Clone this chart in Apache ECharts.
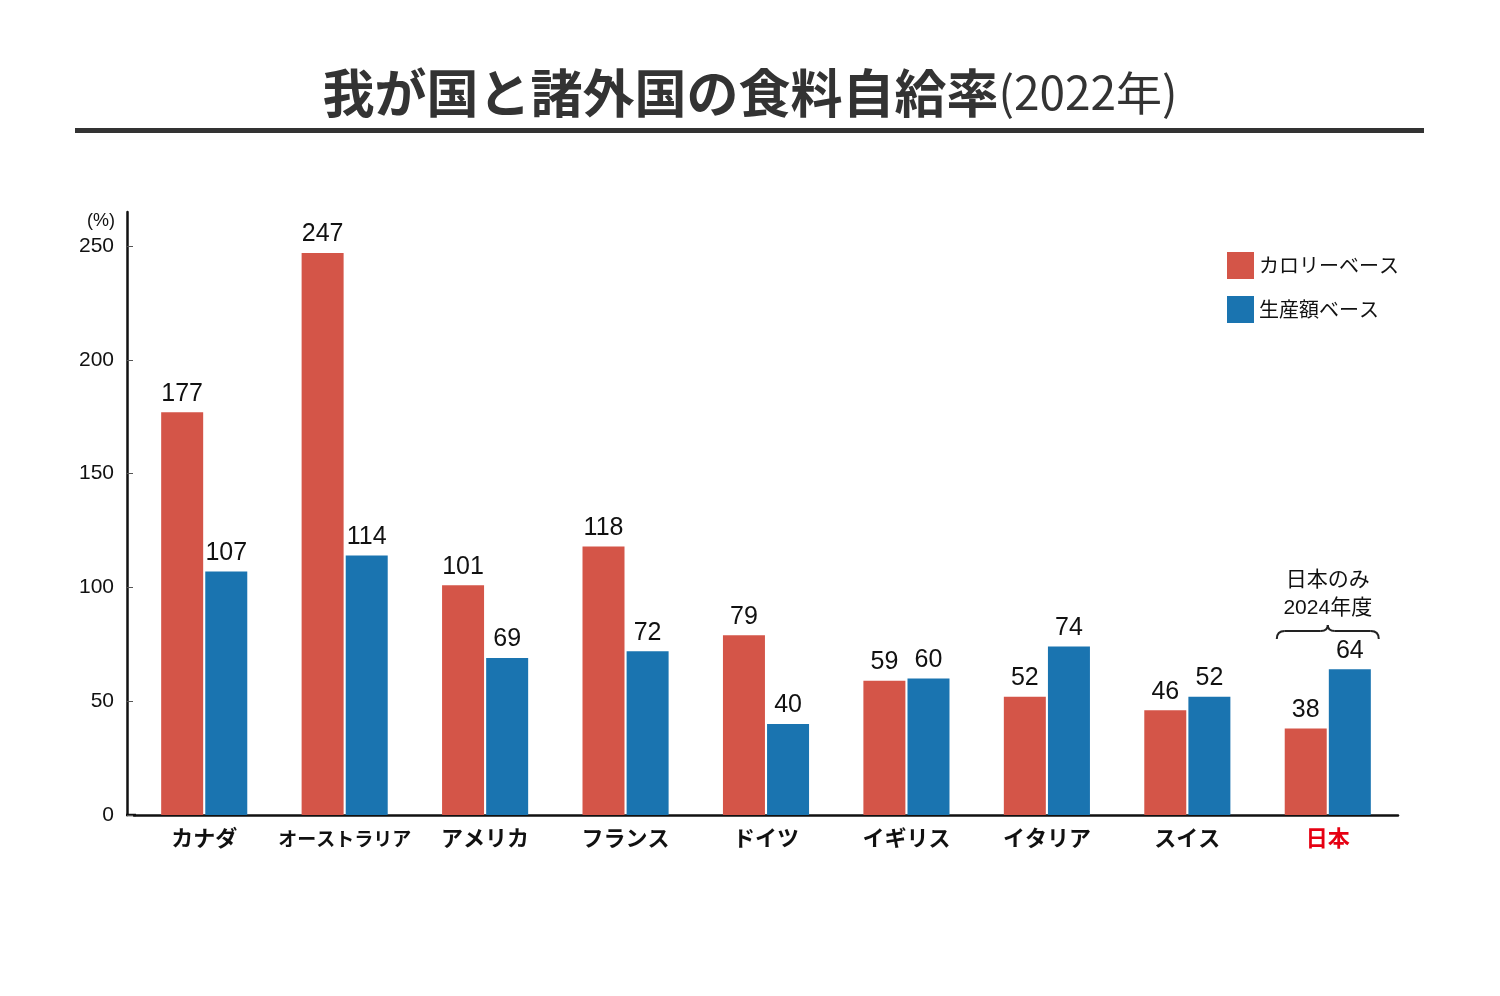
<!DOCTYPE html>
<html>
<head>
<meta charset="utf-8">
<script src="https://cdn.jsdelivr.net/npm/echarts@6/dist/echarts.min.js"></script>
<style>
html,body{margin:0;padding:0;background:#fff;}
#c{width:1500px;height:996px;}
</style>
</head>
<body>
<div id="c"></div>
<script>
const categories = ['カナダ','オーストラリア','アメリカ','フランス','ドイツ','イギリス','イタリア','スイス','日本'];
const calorieBase = [177, 247, 101, 118, 79, 59, 52, 46, 38];
const productionBase = [107, 114, 69, 72, 40, 60, 74, 52, 64];
const yTicks = [0, 50, 100, 150, 200, 250];
const seriesNames = ['カロリーベース', '生産額ベース'];
const titleMain = '我が国と諸外国の食料自給率';
const titleSub = '(2022年)';
const noteText = '日本のみ\n2024年度';

const JP = "'Noto Sans CJK JP', sans-serif";
const NUM = "'Liberation Sans', 'Noto Sans CJK JP', sans-serif";
const RED = '#d45548';
const BLUE = '#1a74b0';

const chart = echarts.init(document.getElementById('c'), null, {renderer: 'canvas'});

const option = {
  backgroundColor: '#fff',
  animation: false,
  title: {
    left: 'center',
    top: 61,
    padding: 0,
    text: '{a|' + titleMain + '}{b|' + titleSub + '}',
    textStyle: {
      rich: {
        a: {fontFamily: JP, fontWeight: 'bold', fontSize: 52, color: '#333', lineHeight: 64},
        b: {fontFamily: JP, fontWeight: 'normal', fontSize: 46, color: '#333', lineHeight: 64}
      }
    }
  },
  legend: {
    orient: 'vertical',
    left: 1227,
    top: 252,
    padding: 0,
    itemWidth: 27,
    itemHeight: 27,
    itemGap: 17,
    icon: 'rect',
    textStyle: {fontFamily: JP, fontSize: 20, color: '#111'},
    data: seriesNames
  },
  grid: {left: 134, right: 102, top: 212, bottom: 181, containLabel: false},
  xAxis: {
    type: 'category',
    data: categories,
    axisLine: {show: true, lineStyle: {color: '#111', width: 2.5}},
    axisTick: {show: false},
    axisLabel: {
      interval: 0,
      margin: 10,
      fontFamily: JP,
      fontWeight: 'bold',
      fontSize: 22,
      lineHeight: 26,
      formatter: function (v) { return v.length > 5 ? '{n|' + v + '}' : v; },
      rich: {n: {fontFamily: JP, fontWeight: 'bold', fontSize: 19, lineHeight: 26, padding: [2, 0, 0, 0], color: '#111'}},
      color: function (v) { return v === '日本' ? '#e60012' : '#111'; }
    }
  },
  yAxis: {
    type: 'value',
    min: 0,
    max: 265,
    interval: 50,
    offset: 7,
    name: '(%)',
    nameLocation: 'end',
    nameGap: -18,
    nameTextStyle: {fontFamily: NUM, fontSize: 18, color: '#111', align: 'right', padding: [0, 12, 0, 0]},
    axisLine: {show: true, lineStyle: {color: '#111', width: 2.5}},
    axisTick: {show: true, inside: true, length: 6, lineStyle: {color: '#555', width: 1}, customValues: yTicks},
    axisLabel: {fontFamily: NUM, fontSize: 21, color: '#111', margin: 13, customValues: yTicks},
    splitLine: {show: false}
  },
  series: [
    {
      name: seriesNames[0],
      type: 'bar',
      data: calorieBase,
      barWidth: 42,
      barGap: '5%',
      itemStyle: {color: RED},
      label: {show: true, position: 'top', distance: 6, fontFamily: NUM, fontSize: 25, color: '#111'}
    },
    {
      name: seriesNames[1],
      type: 'bar',
      data: productionBase,
      barWidth: 42,
      barGap: '5%',
      itemStyle: {color: BLUE},
      label: {show: true, position: 'top', distance: 6, fontFamily: NUM, fontSize: 25, color: '#111'}
    }
  ]
};
chart.setOption(option);

// decorations computed from the axes
const origin = chart.convertToPixel({xAxisIndex: 0, yAxisIndex: 0}, [0, 0]);
const lastIdx = categories.length - 1;
const jp = chart.convertToPixel({xAxisIndex: 0, yAxisIndex: 0}, [lastIdx, 0]);
const gridLeft = 134;
const axisX = gridLeft - 7 - 1;
const braceY = chart.convertToPixel({xAxisIndex: 0, yAxisIndex: 0}, [lastIdx, 80])[1];
const bx = jp[0] - 51, by = braceY - 8;
const braceStyle = {stroke: '#222', lineWidth: 2, fill: null};

chart.setOption({
  graphic: [
    {type: 'rect', shape: {x: 75, y: 128, width: 1349, height: 5}, style: {fill: '#333'}},
    {type: 'line', shape: {x1: axisX, y1: origin[1], x2: gridLeft + 2, y2: origin[1]}, style: {stroke: '#111', lineWidth: 2.5}},
    {type: 'bezierCurve', shape: {x1: bx, y1: by + 14, x2: bx + 8, y2: by + 6, cpx1: bx, cpy1: by + 6}, style: braceStyle},
    {type: 'line', shape: {x1: bx + 8, y1: by + 6, x2: bx + 44, y2: by + 6}, style: braceStyle},
    {type: 'bezierCurve', shape: {x1: bx + 44, y1: by + 6, x2: bx + 51, y2: by, cpx1: bx + 51, cpy1: by + 6}, style: braceStyle},
    {type: 'bezierCurve', shape: {x1: bx + 51, y1: by, x2: bx + 58, y2: by + 6, cpx1: bx + 51, cpy1: by + 6}, style: braceStyle},
    {type: 'line', shape: {x1: bx + 58, y1: by + 6, x2: bx + 94, y2: by + 6}, style: braceStyle},
    {type: 'bezierCurve', shape: {x1: bx + 94, y1: by + 6, x2: bx + 102, y2: by + 14, cpx1: bx + 102, cpy1: by + 6}, style: braceStyle},
    {
      type: 'text',
      x: jp[0], y: braceY - 11,
      style: {text: noteText, fontFamily: NUM, fontSize: 21, lineHeight: 28, fill: '#111', align: 'center', verticalAlign: 'bottom'}
    }
  ]
});
</script>
</body>
</html>
